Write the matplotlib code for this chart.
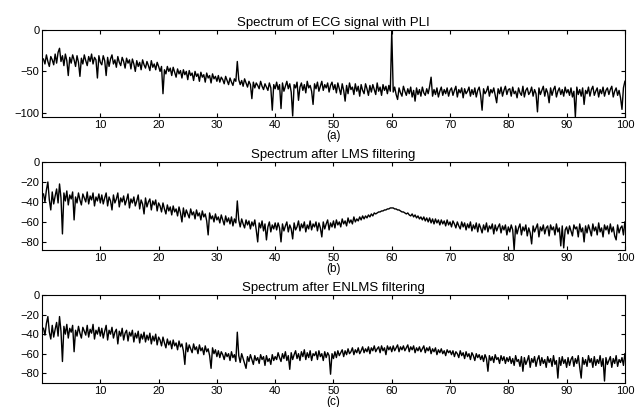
import numpy as np
import matplotlib.pyplot as plt

plt.rcParams['font.family'] = ['Liberation Sans', 'DejaVu Sans']

## frequency grid (Hz), 0.25 Hz steps from 0.25 to 100
freq = np.arange(1, 401) * 0.25

## magnitude spectra in dB, 40 values per 10 Hz
spec_pli = [
    -35, -41, -30, -38, -44, -32, -36, -42, -29, -40, -27, -22, -38, -31, -43, -29, -37, -55, -33, -40,
    -30, -36, -44, -31, -39, -56, -34, -41, -30, -37, -43, -32, -38, -29, -41, -33, -36, -58, -31, -39,
    -42, -31, -37, -55, -33, -44, -35, -30, -41, -36, -45, -32, -39, -43, -33, -38, -46, -34, -40, -36,
    -47, -35, -41, -50, -37, -44, -39, -48, -36, -42, -46, -38, -43, -49, -37, -45, -41, -48, -39, -44,
    -50, -44, -77, -48, -53, -44, -50, -46, -55, -45, -51, -57, -47, -53, -49, -58, -48, -54, -50, -60,
    -49, -55, -52, -61, -50, -56, -53, -62, -51, -57, -54, -63, -52, -58, -55, -64, -53, -59, -56, -62,
    -55, -63, -57, -60, -65, -56, -61, -66, -58, -63, -67, -59, -62, -38, -60, -66, -61, -68, -59, -64,
    -69, -62, -66, -83, -63, -70, -64, -67, -71, -62, -68, -72, -65, -69, -73, -64, -70, -97, -66, -71,
    -63, -72, -66, -95, -64, -74, -68, -62, -71, -65, -75, -104, -66, -70, -63, -85, -69, -64, -73, -66,
    -76, -62, -70, -67, -74, -90, -65, -71, -63, -74, -68, -62, -73, -66, -70, -64, -75, -67, -63, -72,
    -66, -76, -64, -71, -78, -65, -73, -86, -67, -77, -64, -72, -69, -78, -65, -74, -68, -80, -66, -73,
    -77, -65, -71, -79, -67, -75, -66, -72, -78, -64, -74, -69, -79, -66, -73, -68, -77, -67, -74, -1,
    -75, -69, -78, -84, -70, -76, -80, -68, -74, -79, -71, -77, -69, -81, -73, -86, -70, -78, -72, -80,
    -69, -76, -79, -71, -77, -68, -57, -80, -72, -78, -70, -81, -74, -69, -79, -72, -77, -70, -80, -73,
    -70, -79, -73, -68, -81, -72, -76, -70, -82, -71, -77, -74, -69, -80, -72, -78, -70, -81, -73, -69,
    -79, -97, -71, -77, -74, -68, -80, -72, -76, -70, -79, -88, -71, -77, -69, -80, -73, -68, -78, -72,
    -71, -80, -69, -77, -74, -82, -70, -76, -79, -68, -81, -73, -70, -78, -75, -69, -80, -72, -77, -99,
    -70, -78, -73, -68, -80, -71, -76, -88, -70, -79, -72, -68, -81, -74, -70, -78, -72, -80, -69, -76,
    -72, -79, -70, -81, -74, -105, -69, -78, -72, -80, -70, -90, -73, -77, -69, -80, -72, -68, -79, -74,
    -70, -81, -72, -77, -69, -80, -73, -70, -78, -72, -68, -81, -74, -70, -79, -73, -82, -96, -70, -62,
]

spec_lms = [
    -32, -40, -28, -20, -38, -48, -30, -42, -34, -27, -41, -22, -36, -72, -31, -39, -29, -43, -33, -37,
    -30, -58, -35, -41, -31, -38, -43, -32, -36, -40, -30, -42, -34, -38, -31, -44, -35, -39, -32, -41,
    -33, -42, -36, -31, -44, -35, -39, -48, -33, -41, -37, -31, -45, -36, -40, -34, -43, -38, -32, -46,
    -37, -41, -35, -44, -39, -33, -47, -38, -42, -52, -36, -45, -40, -37, -48, -39, -43, -38, -49, -41,
    -44, -50, -41, -47, -52, -43, -49, -45, -53, -44, -50, -47, -54, -45, -51, -60, -46, -55, -48, -52,
    -56, -47, -53, -50, -57, -48, -54, -51, -58, -49, -55, -52, -59, -73, -51, -57, -54, -60, -52, -58,
    -55, -61, -53, -58, -63, -54, -60, -56, -62, -55, -64, -57, -61, -39, -58, -65, -57, -62, -66, -58,
    -63, -59, -67, -60, -64, -58, -68, -80, -61, -66, -59, -69, -62, -78, -65, -60, -70, -63, -67, -61,
    -68, -61, -66, -80, -62, -69, -64, -60, -70, -63, -67, -77, -61, -68, -65, -59, -69, -62, -66, -60,
    -70, -63, -67, -59, -68, -62, -65, -60, -69, -61, -66, -75, -60, -67, -62, -58, -68, -61, -65, -59,
    -66, -58, -63, -60, -65, -57, -62, -59, -64, -56, -61, -58, -62, -55, -60, -57, -59, -55, -58, -54,
    -57, -54, -56, -53, -55, -52, -54, -51, -52, -51, -50, -50, -49, -49, -48, -48, -47, -47, -46, -46,
    -46, -47, -47, -48, -48, -49, -50, -50, -51, -52, -51, -53, -54, -52, -55, -53, -56, -54, -57, -55,
    -58, -55, -59, -56, -60, -56, -61, -57, -62, -57, -61, -58, -63, -58, -62, -59, -64, -58, -63, -60,
    -65, -59, -62, -66, -60, -64, -67, -60, -65, -61, -68, -62, -66, -60, -69, -63, -67, -61, -70, -62,
    -66, -71, -63, -68, -61, -70, -64, -67, -62, -72, -63, -69, -65, -62, -71, -64, -68, -63, -73, -65,
    -70, -63, -68, -88, -64, -72, -66, -62, -73, -65, -69, -63, -74, -66, -71, -82, -64, -70, -66, -62,
    -75, -65, -69, -63, -72, -66, -64, -74, -63, -68, -65, -73, -62, -70, -66, -84, -64, -86, -68, -65,
    -72, -64, -69, -74, -63, -67, -65, -75, -62, -70, -66, -80, -64, -71, -63, -68, -74, -62, -69, -65,
    -73, -61, -70, -66, -75, -63, -68, -64, -72, -62, -70, -65, -74, -78, -63, -71, -66, -64, -73, -60,
]

spec_enlms = [
    -34, -41, -29, -22, -38, -45, -31, -43, -35, -28, -42, -22, -37, -68, -32, -40, -30, -44, -34, -38,
    -31, -58, -36, -42, -32, -39, -44, -33, -37, -41, -31, -43, -35, -39, -30, -45, -36, -40, -33, -42,
    -34, -44, -37, -31, -46, -36, -40, -33, -44, -38, -35, -50, -37, -42, -34, -46, -39, -36, -47, -38,
    -42, -36, -48, -39, -44, -37, -49, -40, -45, -38, -48, -41, -46, -39, -50, -42, -47, -40, -51, -43,
    -46, -52, -43, -49, -54, -45, -51, -47, -55, -46, -52, -49, -56, -47, -53, -50, -57, -71, -49, -58,
    -51, -55, -59, -50, -56, -53, -60, -51, -57, -54, -61, -52, -58, -55, -62, -75, -54, -60, -56, -63,
    -57, -64, -58, -61, -66, -59, -63, -60, -67, -58, -64, -61, -68, -38, -62, -69, -60, -65, -70, -75,
    -63, -68, -61, -66, -71, -62, -67, -64, -70, -61, -66, -63, -72, -62, -68, -65, -71, -61, -67, -63,
    -66, -59, -64, -68, -60, -65, -58, -67, -62, -76, -59, -66, -61, -57, -65, -60, -67, -58, -63, -56,
    -66, -59, -64, -57, -67, -60, -62, -58, -66, -57, -63, -60, -67, -58, -64, -59, -62, -81, -60, -65,
    -58, -64, -57, -62, -59, -56, -63, -57, -61, -55, -60, -58, -54, -61, -56, -59, -54, -60, -57, -53,
    -59, -55, -58, -53, -60, -54, -57, -52, -58, -55, -53, -59, -52, -57, -54, -61, -52, -56, -53, -58,
    -52, -57, -54, -51, -58, -53, -56, -52, -57, -54, -51, -58, -53, -56, -52, -59, -54, -57, -53, -58,
    -55, -52, -59, -54, -57, -53, -60, -55, -58, -54, -61, -56, -59, -55, -60, -57, -62, -56, -59, -57,
    -61, -57, -63, -58, -60, -64, -57, -62, -59, -65, -58, -63, -60, -66, -59, -62, -67, -60, -64, -61,
    -66, -62, -68, -61, -65, -78, -62, -67, -63, -69, -61, -66, -64, -70, -62, -67, -63, -70, -64, -68,
    -63, -70, -65, -72, -62, -68, -66, -73, -63, -78, -64, -71, -67, -62, -74, -65, -69, -63, -73, -66,
    -62, -72, -64, -70, -66, -74, -63, -69, -65, -73, -62, -71, -67, -85, -64, -72, -63, -70, -66, -74,
    -64, -72, -66, -63, -73, -65, -70, -62, -74, -85, -64, -71, -66, -73, -62, -69, -65, -74, -63, -72,
    -66, -70, -62, -73, -65, -88, -64, -71, -67, -63, -74, -65, -70, -62, -73, -66, -69, -64, -72, -60,
]

titles = ["Spectrum of ECG signal with PLI",
          "Spectrum after LMS filtering",
          "Spectrum after ENLMS filtering"]
tags = ["(a)", "(b)", "(c)"]
ylims = [(-105, 0), (-88, 0), (-90, 0)]
yticks = [[-100, -50, 0], [-80, -60, -40, -20, 0], [-80, -60, -40, -20, 0]]

fig = plt.figure(figsize=(6.37, 4.07), dpi=100)
boxes = [[0.066, 0.713, 0.915, 0.213],
         [0.066, 0.386, 0.915, 0.216],
         [0.066, 0.059, 0.915, 0.216]]

for box, spec, title, tag, yl, yt in zip(boxes, [spec_pli, spec_lms, spec_enlms],
                                         titles, tags, ylims, yticks):
    ax = fig.add_axes(box)
    ax.plot(freq, spec, color='black', linewidth=1.0)
    ax.set_xlim(0, 100)
    ax.set_ylim(*yl)
    ax.set_xticks(range(10, 101, 10))
    ax.set_yticks(yt)
    ax.tick_params(direction='in', top=True, right=True, labelsize=8, length=3, pad=2)
    ax.set_title(title, fontsize=9.5, pad=3)
    ax.set_xlabel(tag, fontsize=8.5, labelpad=0)

fig.savefig("out.png", dpi=100)
